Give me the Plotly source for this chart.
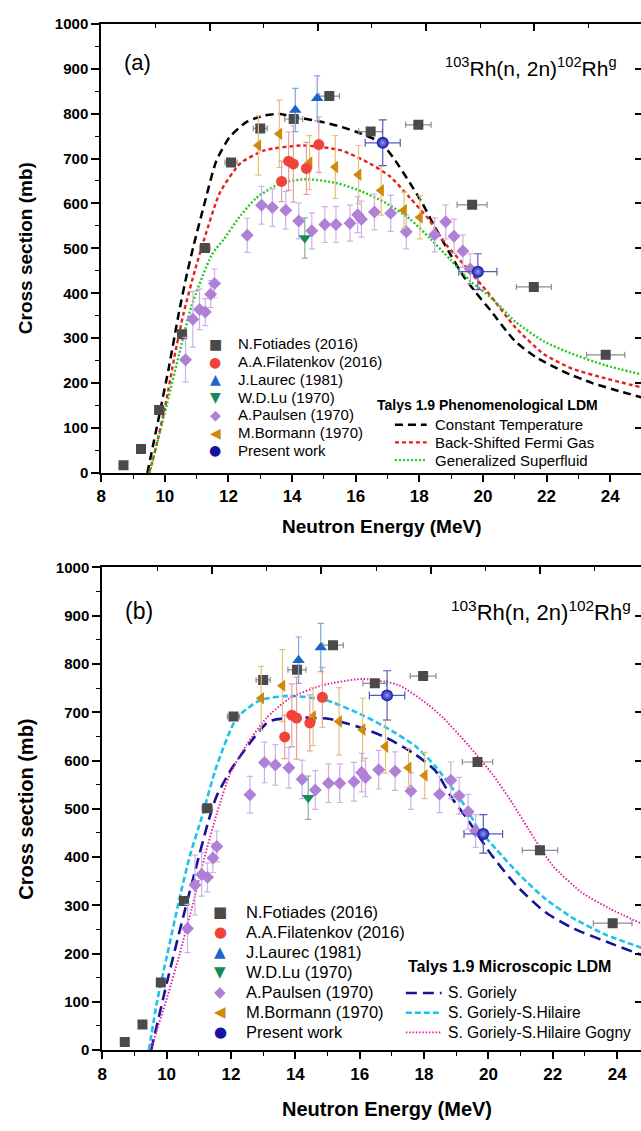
import plotly.graph_objects as go

W, H = 641, 1131
FONT = "Liberation Sans, Arial, Helvetica, sans-serif"
GLYPH_FONT = "DejaVu Sans, Liberation Sans, sans-serif"

# ---------------- experimental data (same in both panels) ----------------
fot_E = [8.70, 9.25, 9.82, 10.54, 11.26, 12.08, 13.00, 14.05, 15.17, 16.47, 17.97, 19.66, 21.60, 23.86]
fot_s = [17, 53, 140, 309, 501, 691, 767, 788, 839, 760, 775, 597, 414, 263]
fot_dE = [0.08, 0.10, 0.12, 0.14, 0.16, 0.19, 0.22, 0.28, 0.32, 0.37, 0.40, 0.47, 0.55, 0.60]

fil_E = [13.67, 13.89, 14.04, 14.45, 14.84]
fil_s = [649, 694, 688, 678, 731]
fil_ds = [45, 65, 85, 58, 62]

lau_E = [14.10, 14.79]
lau_s = [808, 834]
lau_ds = [48, 50]

lu_E = [14.40]
lu_s = [523]
lu_ds = [45]

pau_E = [10.65, 10.88, 11.09, 11.27, 11.44, 11.56, 12.59, 13.04, 13.38, 13.80, 14.21, 14.62, 15.03,
         15.38, 15.82, 16.06, 16.18, 16.59, 17.10, 17.59, 18.48, 18.83, 19.09, 19.37, 19.60]
pau_s = [252, 342, 364, 358, 398, 422, 529, 596, 591, 585, 561, 539, 553,
         553, 556, 575, 565, 581, 578, 537, 530, 559, 527, 494, 454]
pau_ds = [50, 62, 45, 30, 30, 32, 38, 42, 42, 42, 40, 40, 40,
          40, 40, 40, 40, 40, 40, 38, 38, 38, 38, 36, 34]

bor_E = [12.94, 13.60, 14.55, 15.36, 16.09, 16.80, 17.52, 18.02]
bor_s = [729, 755, 691, 681, 664, 629, 585, 569]
bor_ds = [66, 75, 60, 70, 65, 55, 40, 48]

pw_E = [16.85, 19.84]
pw_s = [735, 448]
pw_ds = [51, 40]
pw_dE = [0.55, 0.60]

# ---------------- TALYS curves, panel (a) ----------------
ct_E = [9.45, 9.80, 10.14, 10.45, 10.70, 10.90, 11.21, 11.62, 12.04, 12.56, 13.08, 13.60, 14.12,
        14.84, 15.57, 16.19, 16.80, 17.20, 17.71, 18.09, 18.47, 18.99, 19.37, 19.75, 20.26,
        21.00, 21.66, 22.55, 23.44, 24.34, 25.00]
ct_s = [0, 120, 240, 360, 445, 505, 590, 695, 748, 781, 795, 799, 792,
        783, 770, 755, 735, 700, 645, 601, 550, 485, 440, 404, 360,
        294, 258, 225, 200, 181, 168]

bs_E = [9.50, 9.63, 10.01, 10.30, 10.58, 10.96, 11.24, 11.73, 12.37, 13.13, 14.34, 15.55, 16.44,
        17.08, 17.71, 18.29, 18.86, 19.37, 20.13, 21.02, 21.91, 22.81, 23.83, 25.00]
bs_s = [0, 31, 148, 258, 353, 455, 521, 624, 689, 718, 729, 718, 689,
        660, 612, 565, 507, 466, 404, 324, 265, 232, 211, 190]

gs_E = [9.52, 10.07, 10.45, 10.83, 11.47, 11.86, 12.37, 12.87, 13.64, 14.47, 15.42, 16.18, 16.95,
        17.71, 18.35, 18.99, 19.62, 20.26, 21.00, 21.91, 22.81, 23.83, 25.00]
gs_s = [0, 155, 265, 370, 485, 521, 572, 612, 645, 654, 645, 627, 601,
        565, 521, 474, 426, 390, 338, 293, 265, 240, 219]

# ---------------- TALYS curves, panel (b) ----------------
go_E = [9.52, 10.02, 10.53, 10.90, 11.28, 11.54, 11.98, 12.55, 13.18, 14.06, 15.07, 16.08, 16.84,
        17.72, 18.35, 18.85, 19.36, 20.12, 20.87, 21.76, 22.64, 23.65, 24.76]
go_s = [0, 143, 280, 375, 470, 524, 579, 633, 681, 689, 686, 667, 647,
        613, 579, 524, 477, 402, 341, 286, 252, 225, 197]

gh_E = [9.45, 9.71, 10.02, 10.40, 10.72, 11.10, 11.56, 12.18, 12.90, 13.82, 14.95, 16.09, 16.91,
        17.73, 18.35, 18.85, 19.36, 19.61, 20.24, 21.00, 21.76, 22.64, 23.65, 24.76]
gh_s = [0, 103, 198, 314, 402, 484, 590, 688, 725, 734, 725, 694, 665,
        630, 588, 545, 497, 466, 416, 361, 314, 273, 239, 212]

gg_E = [9.50, 10.02, 10.40, 10.78, 11.16, 11.56, 11.97, 12.49, 13.10, 13.82, 14.85, 16.09, 17.22,
        18.14, 18.60, 19.36, 20.12, 20.75, 21.25, 22.00, 22.89, 23.77, 24.76]
gg_s = [0, 110, 198, 293, 395, 490, 572, 633, 688, 729, 756, 769, 756,
        715, 688, 633, 572, 511, 457, 382, 327, 293, 262]

# ---------------- text ----------------
exp_labels = ["N.Fotiades (2016)", "A.A.Filatenkov (2016)", "J.Laurec (1981)", "W.D.Lu (1970)",
              "A.Paulsen (1970)", "M.Bormann (1970)", "Present work"]
exp_glyphs = ["\u25A0", "\u25CF", "\u25B2", "\u25BC", "\u25C6", "\u25C0", "\u25CF"]
exp_colors = ["#4a4a4a", "#f0433a", "#1b66c9", "#168a5c", "#b07fd6", "#cf8a0c", "#1414a0"]
err_colors = ["#8c8c8c", "#e6a0a0", "#7aa6db", "#7fb39d", "#cfb0e6", "#e3c27a", "#5a5ab8"]

a_model_title = "Talys 1.9 Phenomenological LDM"
a_model_labels = ["Constant Temperature", "Back-Shifted Fermi Gas", "Generalized Superfluid"]
b_model_title = "Talys 1.9 Microscopic LDM"
b_model_labels = ["S. Goriely", "S. Goriely-S.Hilaire", "S. Goriely-S.Hilaire Gogny"]
reaction = "<sup>103</sup>Rh(n, 2n)<sup>102</sup>Rh<sup>g</sup>"
x_title = "Neutron Energy (MeV)"
y_title = "Cross section (mb)"

a_styles = [("#000000", "8px,5px", 2.5), ("#e8201c", "4px,3px", 2.4), ("#22c922", "2px,2px", 2.4)]
b_styles = [("#141496", "11px,6px", 2.6), ("#1cc3ea", "6px,3px", 2.6), ("#e01aa6", "1.5px,1.8px", 1.9)]

fig = go.Figure()


def add_panel(xa, ya, curves, styles, names):
    # curves
    for (E, s), (col, dash, w), nm in zip(curves, styles, names):
        fig.add_trace(go.Scatter(x=E, y=s, mode="lines", name=nm, showlegend=False,
                                 line=dict(color=col, dash=dash, width=w, shape="spline", smoothing=0.6),
                                 xaxis=xa, yaxis=ya, hoverinfo="skip"))
    # experimental points
    fig.add_trace(go.Scatter(x=fot_E, y=fot_s, mode="markers", showlegend=False, xaxis=xa, yaxis=ya,
                             marker=dict(symbol="square", size=10, color=exp_colors[0]),
                             error_x=dict(type="data", array=fot_dE, color=err_colors[0], thickness=1.2, width=3)))
    fig.add_trace(go.Scatter(x=pau_E, y=pau_s, mode="markers", showlegend=False, xaxis=xa, yaxis=ya,
                             marker=dict(symbol="diamond", size=10, color=exp_colors[4]),
                             error_y=dict(type="data", array=pau_ds, color=err_colors[4], thickness=1.2, width=3)))
    fig.add_trace(go.Scatter(x=bor_E, y=bor_s, mode="markers", showlegend=False, xaxis=xa, yaxis=ya,
                             marker=dict(symbol="triangle-left", size=11, color=exp_colors[5]),
                             error_y=dict(type="data", array=bor_ds, color=err_colors[5], thickness=1.2, width=3)))
    fig.add_trace(go.Scatter(x=fil_E, y=fil_s, mode="markers", showlegend=False, xaxis=xa, yaxis=ya,
                             marker=dict(symbol="circle", size=11, color=exp_colors[1]),
                             error_y=dict(type="data", array=fil_ds, color=err_colors[1], thickness=1.2, width=3)))
    fig.add_trace(go.Scatter(x=lau_E, y=lau_s, mode="markers", showlegend=False, xaxis=xa, yaxis=ya,
                             marker=dict(symbol="triangle-up", size=11, color=exp_colors[2]),
                             error_y=dict(type="data", array=lau_ds, color=err_colors[2], thickness=1.2, width=3)))
    fig.add_trace(go.Scatter(x=lu_E, y=lu_s, mode="markers", showlegend=False, xaxis=xa, yaxis=ya,
                             marker=dict(symbol="triangle-down", size=11, color=exp_colors[3]),
                             error_y=dict(type="data", array=lu_ds, color=err_colors[3], thickness=1.2, width=3)))
    fig.add_trace(go.Scatter(x=pw_E, y=pw_s, mode="markers", showlegend=False, xaxis=xa, yaxis=ya,
                             marker=dict(symbol="circle", size=12, color=exp_colors[6],
                                         gradient=dict(type="radial", color="#8c9cff")),
                             error_y=dict(type="data", array=pw_ds, color=err_colors[6], thickness=1.2, width=4),
                             error_x=dict(type="data", array=pw_dE, color=err_colors[6], thickness=1.2, width=4)))


add_panel("x", "y", [(ct_E, ct_s), (bs_E, bs_s), (gs_E, gs_s)], a_styles, a_model_labels)
add_panel("x2", "y2", [(go_E, go_s), (gh_E, gh_s), (gg_E, gg_s)], b_styles, b_model_labels)

# empty traces so overlay (top/right) axes are drawn
for xa, ya in [("x3", "y"), ("x", "y3"), ("x4", "y2"), ("x2", "y4")]:
    fig.add_trace(go.Scatter(x=[], y=[], xaxis=xa, yaxis=ya, showlegend=False, hoverinfo="skip"))


def px(p):
    return p / W


def py(p):
    return 1 - p / H


A_XR = [8, 24.97]
B_XR = [8, 24.74]

xcommon = dict(showline=True, linecolor="black", linewidth=2, ticks="outside", ticklen=7, tickwidth=1.6,
               tickcolor="black", dtick=2, tick0=8, showgrid=False, zeroline=False,
               tickfont=dict(family=FONT, size=17, color="black", weight="bold"),
               minor=dict(dtick=1, ticks="outside", ticklen=4, tickwidth=1.4, tickcolor="black"))
ycommon = dict(showline=True, linecolor="black", linewidth=2, ticks="outside", ticklen=8, tickwidth=1.6,
               tickcolor="black", dtick=100, tick0=0, range=[0, 1000], showgrid=False, zeroline=False,
               tickfont=dict(family=FONT, size=15, color="black", weight="bold"),
               minor=dict(dtick=50, ticks="outside", ticklen=4, tickwidth=1.4, tickcolor="black"))
topcommon = dict(side="top", showline=True, linecolor="black", linewidth=2, ticks="inside", ticklen=7,
                 tickwidth=1.6, tickcolor="black", tickmode="linear", tick0=11.41, dtick=3.40,
                 showticklabels=False, showgrid=False, zeroline=False,
                 minor=dict(tick0=9.71, dtick=1.70, ticks="inside", ticklen=4, tickwidth=1.4, tickcolor="black"))
rightcommon = dict(side="right", showline=False, ticks="inside", ticklen=6, tickwidth=1.6, tickcolor="black",
                   dtick=100, tick0=0, range=[0, 1000], showticklabels=False, showgrid=False, zeroline=False)

fig.update_layout(
    width=W, height=H, margin=dict(l=0, r=0, t=0, b=0),
    paper_bgcolor="white", plot_bgcolor="white", showlegend=False,
    xaxis=dict(domain=[px(97), 1.0], range=A_XR, anchor="y", **xcommon),
    yaxis=dict(domain=[py(471), py(15)], anchor="x", **ycommon),
    xaxis2=dict(domain=[px(98), 1.0], range=B_XR, anchor="y2", **xcommon),
    yaxis2=dict(domain=[py(1057), py(567)], anchor="x2", **ycommon),
    xaxis3=dict(overlaying="x", anchor="y", range=A_XR, **topcommon),
    yaxis3=dict(overlaying="y", anchor="x", **rightcommon),
    xaxis4=dict(overlaying="x2", anchor="y2", range=B_XR, **topcommon),
    yaxis4=dict(overlaying="y2", anchor="x2", **rightcommon),
)

ann = []
shapes = []


def text(x, y, s, size, bold=False, xanchor="left", angle=0, color="black", family=FONT):
    ann.append(dict(x=px(x), y=py(y), xref="paper", yref="paper", text=s, showarrow=False,
                    xanchor=xanchor, yanchor="middle", textangle=angle,
                    font=dict(family=family, size=size, color=color, weight="bold" if bold else "normal")))


# panel labels / titles
text(118, 54, "(a)", 22)
text(619, 59, reaction, 21, xanchor="right")
text(380, 525, x_title, 19, bold=True, xanchor="center")
text(21, 243, y_title, 19, bold=True, xanchor="center", angle=-90)

text(119, 611, "(b)", 23)
text(633, 611, reaction, 22, xanchor="right")
text(385, 1117, x_title, 20, bold=True, xanchor="center")
text(21, 812, y_title, 20, bold=True, xanchor="center", angle=-90)


def exp_legend(x_sym, x_txt, y0, dy, size, gsize):
    for i, (lab, g, c) in enumerate(zip(exp_labels, exp_glyphs, exp_colors)):
        y = y0 + i * dy
        text(x_sym, y, g, gsize, xanchor="center", color=c, family=GLYPH_FONT)
        text(x_txt, y, lab, size)


def model_legend(x_title, y_title, x0, x1, x_txt, y0, dy, size, tsize, title, labels, styles):
    text(x_title, y_title, title, tsize, bold=True)
    for i, (lab, (col, dash, w)) in enumerate(zip(labels, styles)):
        y = y0 + i * dy
        shapes.append(dict(type="line", xref="paper", yref="paper", x0=px(x0), x1=px(x1), y0=py(y), y1=py(y),
                           line=dict(color=col, dash=dash, width=w)))
        text(x_txt, y, lab, size)


exp_legend(212, 233, 340, 18, 15, 14)
model_legend(373, 402, 393, 425, 431, 422, 18, 15, 14, a_model_title, a_model_labels, a_styles)

exp_legend(217, 241, 917, 20.3, 16.5, 15)
model_legend(404, 972, 404, 440, 444, 999, 20, 15.6, 16, b_model_title, b_model_labels, b_styles)

fig.update_layout(annotations=ann, shapes=shapes)

fig.write_html("out.html")
